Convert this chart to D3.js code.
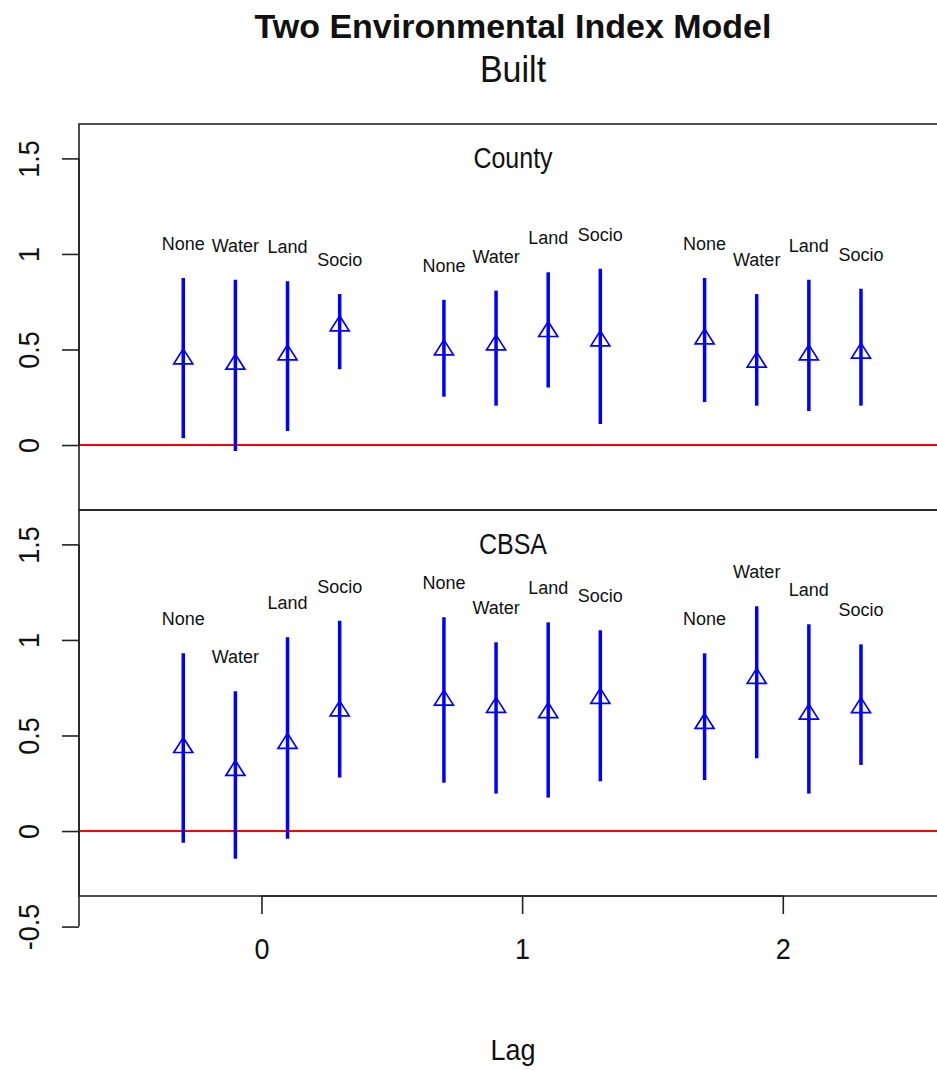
<!DOCTYPE html>
<html>
<meta charset="utf-8">
<script src="https://cdnjs.cloudflare.com/ajax/libs/d3/7.8.5/d3.min.js"></script>
<style>
  body { margin: 0; background: #fff; }
  text { font-family: "Liberation Sans", Arial, sans-serif; fill: #111; }
</style>
<body>
<div id="plot_area"></div>
<script>

// chart values
var lags = [0, 1, 2];
var models = ["None", "Water", "Land", "Socio"];
var modelOffset = [-0.3, -0.1, 0.1, 0.3];
var yTicks = [-0.5, 0, 0.5, 1, 1.5];
var xTicks = [0, 1, 2];

// order: lag 0 (None, Water, Land, Socio), lag 1 (...), lag 2 (...)
var countyEst   = [0.451, 0.423, 0.472, 0.624, 0.498, 0.524, 0.594, 0.545, 0.556, 0.434, 0.472, 0.481];
var countyLower = [0.035, -0.031, 0.073, 0.397, 0.253, 0.206, 0.301, 0.110, 0.225, 0.206, 0.178, 0.206];
var countyUpper = [0.874, 0.865, 0.857, 0.790, 0.760, 0.808, 0.904, 0.923, 0.874, 0.790, 0.865, 0.818];

var cbsaEst   = [0.437, 0.317, 0.459, 0.629, 0.685, 0.647, 0.620, 0.694, 0.563, 0.799, 0.612, 0.646];
var cbsaLower = [-0.061, -0.145, -0.040, 0.280, 0.253, 0.196, 0.175, 0.261, 0.267, 0.381, 0.196, 0.346];
var cbsaUpper = [0.930, 0.731, 1.014, 1.101, 1.119, 0.988, 1.092, 1.051, 0.930, 1.176, 1.082, 0.977];

var width = 937, height = 1070;
var left = 79, right = 947;
var panelH = 386;

var svg = d3.select("#plot_area")
  .append("svg")
    .attr("width", width)
    .attr("height", height);

var x = d3.scaleLinear()
  .domain([-0.7, 2.63])
  .range([left, right]);

function toRows(est, lo, hi) {
  var rows = [];
  lags.forEach(function(lag, i) {
    models.forEach(function(m, j) {
      var k = i * models.length + j;
      rows.push({lag: lag, model: m, pos: lag + modelOffset[j], est: est[k], lo: lo[k], hi: hi[k]});
    });
  });
  return rows;
}

var tri = "M0,-10 L9.5,5 L-9.5,5 Z";

function panel(top, name, rows, ticks, isBottom) {
  var y = d3.scaleLinear()
    .domain([-0.34, 1.68])
    .range([top + panelH, top]);

  var g = svg.append("g");

  // red reference line at zero
  g.append("line")
    .attr("x1", left).attr("x2", right)
    .attr("y1", y(0)).attr("y2", y(0))
    .attr("stroke", "#ff0000")
    .attr("stroke-width", 2);

  // box
  g.append("rect")
    .attr("x", left).attr("y", top)
    .attr("width", right - left).attr("height", panelH)
    .attr("fill", "none")
    .attr("stroke", "#222")
    .attr("stroke-width", 1.6);

  // y axis (R style: line spans first to last tick)
  var yAxis = d3.axisLeft(y)
    .tickValues(ticks)
    .tickSize(17)
    .tickFormat(function(d) { return d; });
  var ax = g.append("g")
    .attr("transform", "translate(" + left + ",0)")
    .call(yAxis);
  ax.select(".domain")
    .attr("d", "M0," + y(d3.min(ticks)) + "V" + y(d3.max(ticks)))
    .attr("stroke", "#222").attr("stroke-width", 1.6);
  ax.selectAll(".tick line").attr("stroke", "#222").attr("stroke-width", 1.6);
  ax.selectAll(".tick text")
    .attr("x", null).attr("dy", null)
    .attr("transform", "translate(-40,0) rotate(-90) scale(1,1.1)")
    .attr("text-anchor", "middle")
    .attr("fill", "#111")
    .style("font-size", "27px")
    .style("font-family", "'Liberation Sans', Arial, sans-serif");

  // panel label
  g.append("text")
    .attr("transform", "translate(" + ((left + right) / 2) + "," + (top + 44) + ") scale(1,1.15)")
    .attr("text-anchor", "middle")
    .style("font-size", "25px")
    .text(name);

  // confidence intervals
  g.selectAll(".ci")
    .data(rows)
    .enter()
    .append("line")
      .attr("x1", function(d) { return x(d.pos); })
      .attr("x2", function(d) { return x(d.pos); })
      .attr("y1", function(d) { return y(d.lo); })
      .attr("y2", function(d) { return y(d.hi); })
      .attr("stroke", "#0000ff")
      .attr("stroke-width", 3.5);

  // point estimates
  g.selectAll(".pt")
    .data(rows)
    .enter()
    .append("path")
      .attr("d", tri)
      .attr("transform", function(d) { return "translate(" + x(d.pos) + "," + y(d.est) + ")"; })
      .attr("fill", "none")
      .attr("stroke", "#0000ff")
      .attr("stroke-width", 1.7);

  // model names above the intervals
  g.selectAll(".lab")
    .data(rows)
    .enter()
    .append("text")
      .attr("x", function(d) { return x(d.pos); })
      .attr("y", function(d) { return y(d.hi) - 28; })
      .attr("text-anchor", "middle")
      .style("font-size", "18px")
      .text(function(d) { return d.model; });

  if (isBottom) {
    var xAxis = d3.axisBottom(x)
      .tickValues(xTicks)
      .tickSize(18)
      .tickFormat(function(d) { return d; });
    var bx = g.append("g")
      .attr("transform", "translate(0," + (top + panelH) + ")")
      .call(xAxis);
    bx.select(".domain")
      .attr("d", "M" + x(0) + ",0H" + x(2))
      .attr("stroke", "#222").attr("stroke-width", 1.6);
    bx.selectAll(".tick line").attr("stroke", "#222").attr("stroke-width", 1.6);
    bx.selectAll(".tick text")
      .attr("y", null).attr("dy", null)
      .attr("transform", "translate(0,63) scale(1,1.1)")
      .attr("text-anchor", "middle")
      .attr("fill", "#111")
      .style("font-size", "27px")
      .style("font-family", "'Liberation Sans', Arial, sans-serif");
  }
}

panel(124, "County", toRows(countyEst, countyLower, countyUpper), [0, 0.5, 1, 1.5], false);
panel(510, "CBSA", toRows(cbsaEst, cbsaLower, cbsaUpper), yTicks, true);

// titles
svg.append("text")
  .attr("x", (left + right) / 2)
  .attr("y", 38)
  .attr("text-anchor", "middle")
  .style("font-size", "34px")
  .style("font-weight", "bold")
  .text("Two Environmental Index Model");

svg.append("text")
  .attr("transform", "translate(" + ((left + right) / 2) + ",82) scale(1,1.1)")
  .attr("text-anchor", "middle")
  .style("font-size", "34px")
  .text("Built");

svg.append("text")
  .attr("transform", "translate(" + ((left + right) / 2) + ",1060) scale(1,1.1)")
  .attr("text-anchor", "middle")
  .style("font-size", "27px")
  .text("Lag");

</script>
</body>
</html>
